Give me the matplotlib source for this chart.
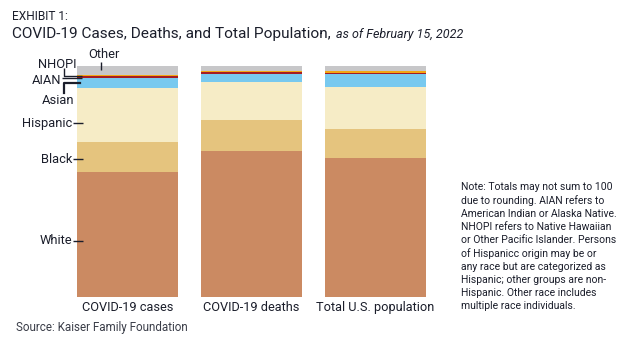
import matplotlib
matplotlib.use("Agg")
import matplotlib.pyplot as plt
import numpy as np

plt.rcParams['font.family'] = ['Roboto', 'DejaVu Sans']

# Share of each group (%), stacked bottom to top
categories = ["COVID-19 cases", "COVID-19 deaths", "Total U.S. population"]
groups = ["White", "Black", "Hispanic", "Asian", "AIAN", "NHOPI", "Other"]
white = [54.0, 63.0, 60.3]
black = [13.0, 13.6, 12.4]
hispanic = [23.5, 16.4, 18.3]
asian = [4.3, 3.5, 5.7]
aian = [0.7, 0.9, 0.4]
nhopi = [0.5, 0.4, 0.9]
other = [4.0, 2.2, 2.0]

series = [white, black, hispanic, asian, aian, nhopi, other]
colors = ["#cb8a62", "#e5c47e", "#f6ecc6", "#78c9ef", "#a51c24", "#f3a712", "#c7c7c9"]

TEXT = "#1b1e2b"

W, H = 630, 346
fig = plt.figure(figsize=(W / 100, H / 100), dpi=100)

# axes placed in pixel terms: left 77px, bottom 296.7px from top, top 66px
ax_left, ax_right = 77 / W, 426 / W
ax_bottom, ax_top = 1 - 296.7 / H, 1 - 66 / H
ax = fig.add_axes([ax_left, ax_bottom, ax_right - ax_left, ax_top - ax_bottom])

x = np.arange(len(categories))
bw = 0.815
bottom = np.zeros(len(categories))
for vals, c in zip(series, colors):
    ax.bar(x, vals, bw, bottom=bottom, color=c, linewidth=0)
    bottom += np.array(vals)

ax.set_xlim(-bw / 2, len(categories) - 1 + bw / 2)
ax.set_ylim(0, 100)
for s in ax.spines.values():
    s.set_visible(False)
ax.set_yticks([])
ax.set_xticks(x)
ax.set_xticklabels(categories, fontsize=9.2, color=TEXT)
ax.tick_params(axis="x", length=0, pad=3)

# helpers: pixel positions -> data coords for the left-side callouts
def px_x(px):
    return (px - 77) / (426 - 77) * (ax.get_xlim()[1] - ax.get_xlim()[0]) + ax.get_xlim()[0]

def px_y(py):
    return (296.7 - py) / (296.7 - 66) * 100

lab_kw = dict(fontsize=9.3, color=TEXT, clip_on=False)
line_kw = dict(color=TEXT, lw=1.0, clip_on=False, solid_capstyle="butt")

# White, Black, Hispanic: label with short leader into the bar
for name, py in [("White", 241.0), ("Black", 159.3), ("Hispanic", 123.0)]:
    ax.text(px_x(72), px_y(py), name, ha="right", va="center", **lab_kw)
    ax.plot([px_x(72.5), px_x(83)], [px_y(py), px_y(py)], **line_kw)

# Asian: label below with an elbow leader
ax.text(px_x(74), px_y(100), "Asian", ha="right", va="center", **lab_kw)
ax.plot([px_x(64), px_x(64), px_x(80)], [px_y(93), px_y(83.3), px_y(83.3)],
        color=TEXT, lw=1.6, clip_on=False)

# AIAN
ax.text(px_x(61), px_y(80.5), "AIAN", ha="right", va="center", **lab_kw)
ax.plot([px_x(61.5), px_x(82)], [px_y(78.3), px_y(78.3)], **line_kw)

# NHOPI
ax.text(px_x(76.5), px_y(65), "NHOPI", ha="right", va="center", **lab_kw)
ax.plot([px_x(64.3), px_x(64.3), px_x(82)], [px_y(68.5), px_y(76), px_y(76)], **line_kw)

# Other
ax.text(px_x(104), px_y(54.5), "Other", ha="center", va="center", **lab_kw)
ax.plot([px_x(101), px_x(101)], [px_y(61.5), px_y(70.5)], **line_kw)

# Titles
fig.text(12 / W, 1 - 20.5 / H, "EXHIBIT 1:", fontsize=8.6, color=TEXT, va="baseline")
t = fig.text(12 / W, 1 - 38.3 / H, "COVID-19 Cases, Deaths, and Total Population,",
             fontsize=11.1, color=TEXT, va="baseline")
fig.canvas.draw()
bb = t.get_window_extent(renderer=fig.canvas.get_renderer())
fig.text(bb.x1 / W + 5 / W, 1 - 38.3 / H, "as of February 15, 2022", fontsize=9,
         style="italic", color=TEXT, va="baseline")

# Source line
fig.text(16.5 / W, 1 - 331 / H, "Source: Kaiser Family Foundation", fontsize=8.4,
         color="#3a3d48", va="baseline")

# Note block
note = ("Note: Totals may not sum to 100\n"
        "due to rounding. AIAN refers to\n"
        "American Indian or Alaska Native.\n"
        "NHOPI refers to Native Hawaiian\n"
        "or Other Pacific Islander. Persons\n"
        "of Hispanicc origin may be or\n"
        "any race but are categorized as\n"
        "Hispanic; other groups are non-\n"
        "Hispanic. Other race includes\n"
        "multiple race individuals.")
fig.text(461.5 / W, 1 - 182 / H, note, fontsize=7.5, color=TEXT, va="top", ha="left",
         linespacing=1.37)

fig.savefig("out.png", dpi=100)
